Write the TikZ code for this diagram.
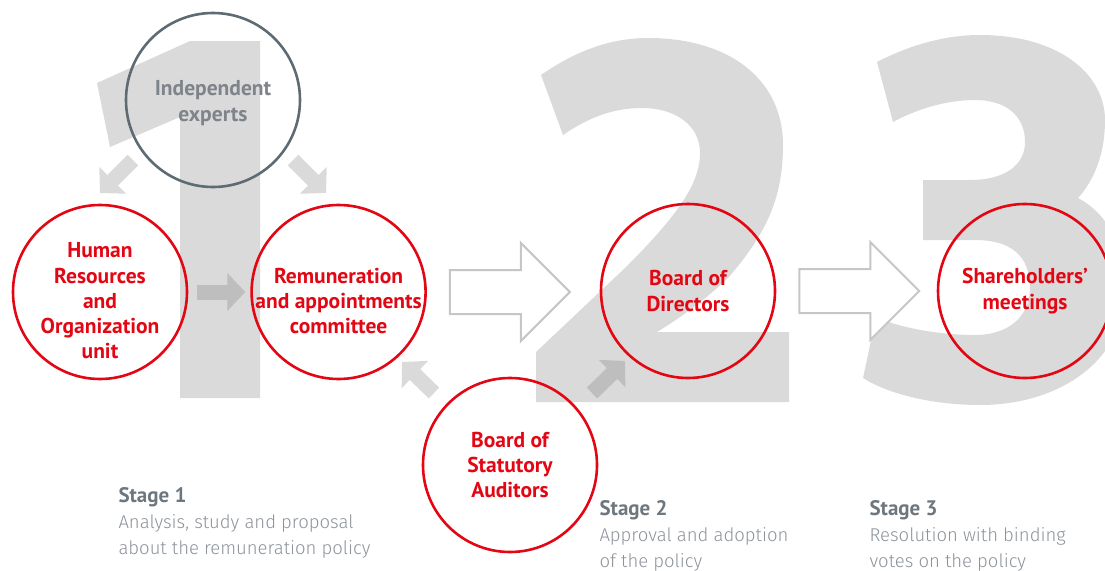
\documentclass[tikz,border=0pt]{standalone}
\usepackage{fontspec}
\setmainfont{PT Sans}
\newfontfamily\lightfont{Fira Sans Light}
\usetikzlibrary{positioning, arrows.meta}

\definecolor{brandred}{HTML}{E30613}
\definecolor{digitgray}{HTML}{DADADA}
\definecolor{arrowgray}{HTML}{BEBEBE}
\definecolor{slate}{HTML}{5F6B73}
\definecolor{headgray}{HTML}{6F777E}
\definecolor{softgray}{HTML}{8D939A}
\definecolor{outlinegray}{HTML}{C6C6C6}

\tikzset{
    actor/.style={circle, draw=brandred, line width=2.6pt,
        minimum size=174pt, inner sep=0pt, text=brandred,
        font=\bfseries\fontsize{21.5}{25.3}\selectfont, align=center},
    actortext/.style={text=brandred, align=center,
        font=\bfseries\fontsize{21.5}{25.3}\selectfont},
    expert/.style={actor, draw=slate, text=softgray!90!black},
    softarrow/.style={line width=15pt, digitgray,
        -{Triangle[length=18pt, width=37pt]}},
    darkarrow/.style={softarrow, arrowgray},
    stagearrow/.style={draw=outlinegray, line width=2pt, fill=white},
    stagetext/.style={anchor=base west, align=left, text=softgray,
        font=\lightfont\fontsize{18.5}{26}\selectfont},
}

\newcommand{\stagehead}[1]{{\normalfont\bfseries\fontsize{21}{26}\selectfont\color{headgray}#1}}

\begin{document}
\begin{tikzpicture}[x=1pt, y=-1pt]
    \useasboundingbox (0,0) rectangle (1105,570);
    \clip (0,0) rectangle (1105,570);

    % big stage numbers
    \fill[digitgray] (97,83) -- (190,41) -- (260,41) -- (260,398)
        -- (180,398) -- (180,117) -- (110,147) -- cycle;
    \fill[digitgray] (541,75) .. controls (570,55) and (605,38) .. (648,38)
        .. controls (730,38) and (783,80) .. (783,145)
        .. controls (783,200) and (765,235) .. (728,278)
        .. controls (705,300) and (680,318) .. (657,332)
        -- (789,332) -- (789,402) -- (536,402) -- (536,352)
        -- (625,268) .. controls (675,218) and (700,185) .. (700,153)
        .. controls (700,125) and (675,108) .. (642,108)
        .. controls (610,108) and (585,120) .. (563,135) -- cycle;
    \fill[digitgray] (877,62) .. controls (910,45) and (945,35) .. (980,35)
        .. controls (1060,35) and (1105,75) .. (1105,120)
        .. controls (1105,160) and (1090,185) .. (1078,198)
        .. controls (1110,215) and (1125,250) .. (1125,290)
        .. controls (1125,360) and (1060,405) .. (980,405)
        .. controls (935,405) and (890,395) .. (863,378)
        -- (876,317) .. controls (900,328) and (940,335) .. (975,335)
        .. controls (1010,335) and (1030,315) .. (1030,288)
        .. controls (1030,255) and (1010,240) .. (975,240)
        -- (923,240) -- (923,180) -- (970,180)
        .. controls (1005,180) and (1025,165) .. (1025,142)
        .. controls (1025,115) and (1005,100) .. (975,100)
        .. controls (945,100) and (915,110) .. (893,122) -- cycle;

    % bodies
    \node[expert] (ie) at (213,100) {};
    \node[actor] (hr) at (100,292) {};
    \node[actor, right=62pt of hr] (rem) {};
    \node[actor] (bod) at (688,291) {Board of\\Directors};
    \node[actor] (sh) at (1025,291) {Shareholders'\\meetings};
    \node[actor] (bsa) at (510,465) {Board of\\Statutory\\Auditors};

    \node[actortext, text=softgray!90!black] at ([yshift=-3pt]ie.center)
        {Independent\\experts};
    \node[actortext] at ([yshift=-9pt]hr.center)
        {Human\\Resources\\and\\Organization\\unit};
    \node[actortext] at ([yshift=-9pt]rem.center)
        {Remuneration\\and appointments\\committee};

    % flows between bodies
    \draw[softarrow] ([shift={(-80,60)}]ie.center) -- ++(-33,33);
    \draw[softarrow] ([shift={(80,60)}]ie.center) -- ++(33,33);
    \draw[darkarrow, shorten <=9pt, shorten >=5pt] (hr.east) -- (rem.west);
    \draw[softarrow] ([shift={(-76,-72)}]bsa.center) -- ++(-32,-31);
    \draw[darkarrow] ([shift={(82,-72)}]bsa.center) -- ++(33,-32);

    % passage from one stage to the next
    \foreach \src in {rem, bod}
        \draw[stagearrow] (\src.east) ++(23,-22) -- ++(71,0) -- ++(0,-27)
            -- ++(49,49) -- ++(-49,49) -- ++(0,-27) -- ++(-71,0) -- cycle;

    % stage captions (anchored on the last line)
    \node[stagetext] (stage1) at (115,554)
        {\stagehead{Stage 1}\\Analysis, study and proposal\\about the remuneration policy};
    \node[stagetext] (stage2) at (596,567)
        {\stagehead{Stage 2}\\Approval and adoption\\of the policy};
    \node[stagetext] (stage3) at (866,567)
        {\stagehead{Stage 3}\\Resolution with binding\\votes on the policy};
\end{tikzpicture}
\end{document}
